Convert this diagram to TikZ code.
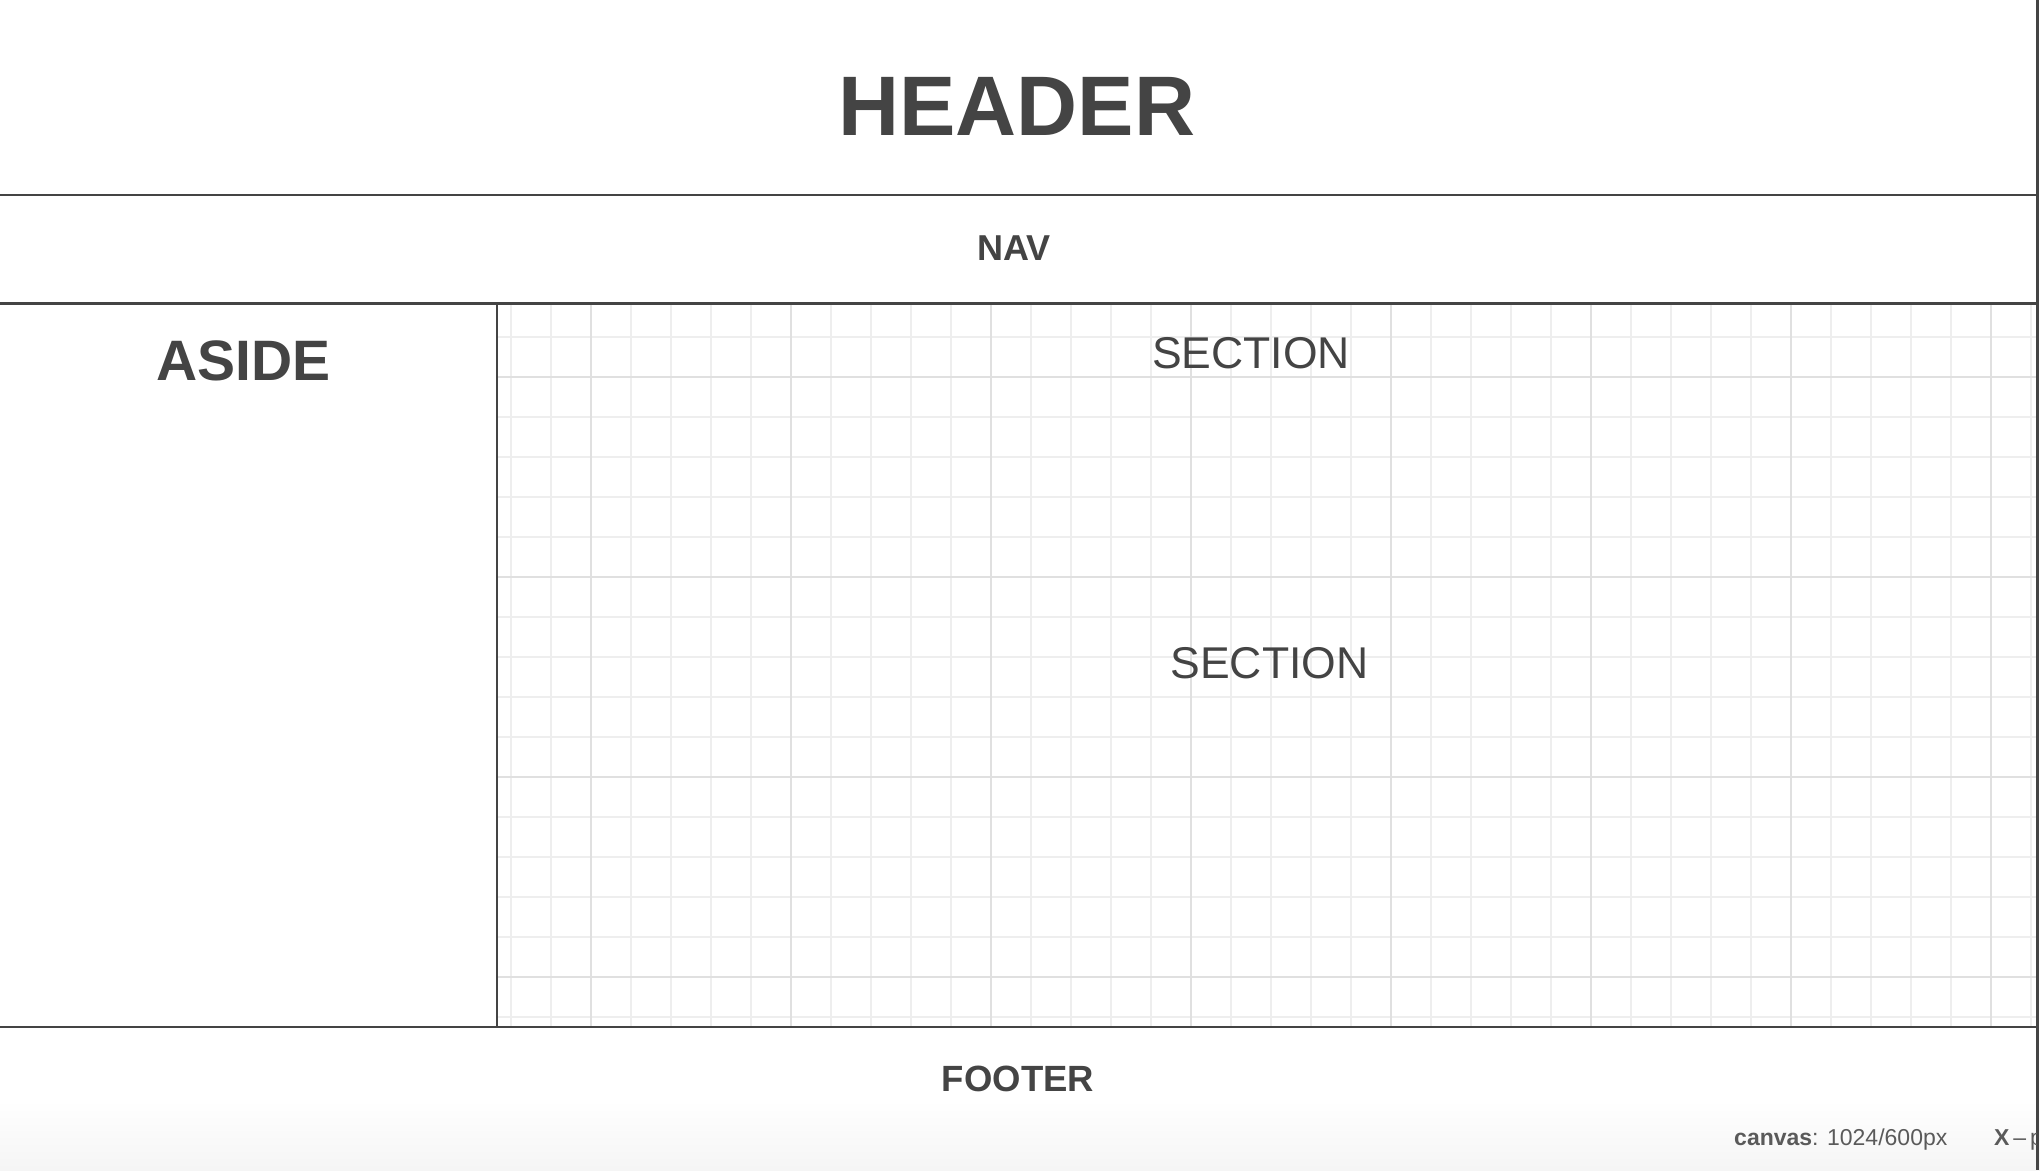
\documentclass[tikz,border=0pt]{standalone}
\usepackage{fontspec}
\setmainfont{Liberation Sans}
\definecolor{ink}{HTML}{444444}
\definecolor{stat}{HTML}{5A5A5A}
\definecolor{gminor}{HTML}{EEEEEE}
\definecolor{gmajor}{HTML}{E0E0E0}
\tikzset{
  lbl/.style={inner sep=0pt, anchor=base, text=ink},
  frame/.style={draw=ink},
  minorline/.style={draw=gminor, line width=1.6pt},
  majorline/.style={draw=gmajor, line width=2pt}
}
\begin{document}
\begin{tikzpicture}[x=1pt,y=-1pt]
\useasboundingbox (0,0) rectangle (2040,1170);
\fill[white] (0,0) rectangle (2040,1170);
\shade[top color=white, bottom color=black!4] (0,1100) rectangle (2040,1170);
% grid in the section area
\begin{scope}
  \clip (497,304) rectangle (2037,1027);
  \foreach \x in {511,551,...,2031} \draw[minorline] (\x,290) -- (\x,1030);
  \foreach \y in {297,337,...,1017} \draw[minorline] (490,\y) -- (2040,\y);
  \foreach \x in {591,791,...,1991} \draw[majorline] (\x,290) -- (\x,1030);
  \foreach \y in {377,577,777,977} \draw[majorline] (490,\y) -- (2040,\y);
\end{scope}
% frame lines
\coordinate (hl) at (0,195);   \coordinate (hr) at (2037,195);
\coordinate (nl) at (0,303.5); \coordinate (nr) at (2037,303.5);
\coordinate (at) at (497,304); \coordinate (ab) at (497,1027);
\coordinate (fl) at (0,1027);  \coordinate (fr) at (2037,1027);
\coordinate (rt) at (2037.5,0); \coordinate (rb) at (2037.5,1170);
\draw[frame, line width=2pt] (hl) -- (hr);
\draw[frame, line width=3.5pt] (nl) -- (nr);
\draw[frame, line width=2pt] (at) -- (ab);
\draw[frame, line width=2.5pt] (fl) -- (fr);
\draw[frame, line width=3pt] (rt) -- (rb);
% labels
\node[lbl, font=\fontsize{84.5}{84.5}\selectfont\bfseries] (header) at (1016.7,135) {HEADER};
\node[lbl, font=\fontsize{36}{36}\selectfont\bfseries] (nav) at (1013.8,260) {NAV};
\node[lbl, font=\fontsize{57}{57}\selectfont\bfseries] (aside) at (243.7,380.7) {ASIDE};
\node[lbl, font=\fontsize{44.5}{44.5}\selectfont] (sec1) at (1251,368.3) {SECTION};
\node[lbl, font=\fontsize{44.5}{44.5}\selectfont] (sec2) at (1269.5,678.3) {SECTION};
\node[lbl, font=\fontsize{36.5}{36.5}\selectfont\bfseries] (footer) at (1018,1091) {FOOTER};
\node[inner sep=0pt, anchor=base west, text=stat, font=\fontsize{23}{23}\selectfont] (canvas) at (1734,1145) {\textbf{canvas}: 1024/600px};
\begin{scope}
  \clip (1980,1100) rectangle (2036,1170);
  \node[inner sep=0pt, anchor=base west, text=stat, font=\fontsize{23}{23}\selectfont] (xlbl) at (1994,1145) {\textbf{X}\,–\,p};
\end{scope}
\end{tikzpicture}
\end{document}
